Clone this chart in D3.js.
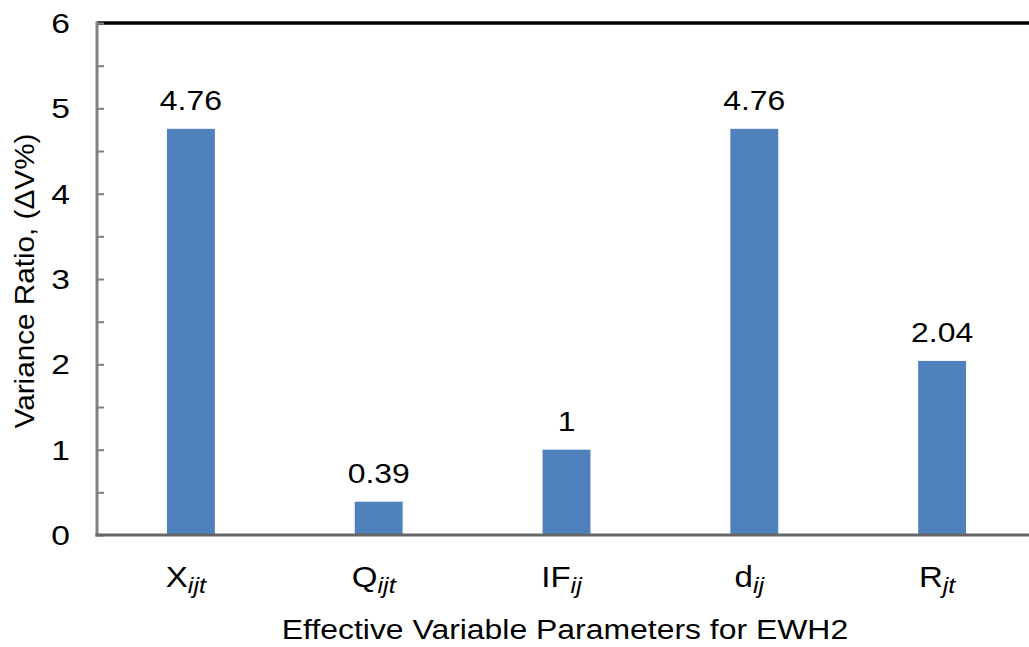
<!DOCTYPE html>
<html>
<head>
<meta charset="utf-8">
<script src="https://cdn.jsdelivr.net/npm/d3@7"></script>
<style>
  html, body { margin: 0; padding: 0; background: #fff; }
  svg { display: block; }
  text { font-family: "Liberation Sans", Arial, sans-serif; fill: #000; }
</style>
</head>
<body>
<svg id="chart" width="1029" height="647"></svg>
<script>
// Parameter names (main symbol + italic subscript) and their variance ratios
const categories = ["X", "Q", "IF", "d", "R"];
const subscripts = ["ijt", "ijt", "ij", "ij", "jt"];
const values = [4.76, 0.39, 1, 4.76, 2.04];
const valueLabels = ["4.76", "0.39", "1", "4.76", "2.04"];
const yTicks = [0, 1, 2, 3, 4, 5, 6];
const yMinorTicks = [0.5, 1.5, 2.5, 3.5, 4.5, 5.5];
const xTitle = "Effective Variable Parameters for EWH2";
const yTitle = "Variance Ratio, (\u0394V%)";

const svg = d3.select("#chart");
const plotLeft = 97, plotRight = 1036, plotTop = 23, plotBottom = 535;
const stretch = 1.14; // horizontal glyph widening used for all labels

const y = d3.scaleLinear().domain([0, 6]).range([plotBottom, plotTop]);
const x = d3.scaleBand().domain(categories.map((c, i) => i))
  .range([plotLeft, plotRight]).paddingInner(0.745).paddingOuter(0.3725);

// Plot-area top border
svg.append("line")
  .attr("x1", plotLeft).attr("x2", 1029).attr("y1", plotTop).attr("y2", plotTop)
  .attr("stroke", "#000").attr("stroke-width", 3.5);

// Bars
svg.append("g").selectAll("rect").data(values).join("rect")
  .attr("x", (d, i) => x(i))
  .attr("width", x.bandwidth())
  .attr("y", d => y(d))
  .attr("height", d => y(0) - y(d))
  .attr("fill", "#4F81BD");

// Value labels above bars
svg.append("g").selectAll("g").data(values).join("g")
  .attr("transform", (d, i) => `translate(${x(i) + x.bandwidth() / 2},${y(d) - 19}) scale(${stretch},1)`)
  .append("text")
  .attr("text-anchor", "middle")
  .style("font-size", "28px")
  .text((d, i) => valueLabels[i]);

// Y axis with inward ticks
const yAxis = d3.axisRight(y).tickValues(yTicks).tickSize(7).tickFormat("");
const yAxisMinor = d3.axisRight(y).tickValues(yMinorTicks).tickSize(7).tickFormat("");
[yAxis, yAxisMinor].forEach(ax => {
  const g = svg.append("g").attr("transform", `translate(${plotLeft},0)`).call(ax);
  g.select(".domain").remove();
  g.selectAll(".tick line").attr("stroke", "#808080").attr("stroke-width", 2);
});
svg.append("line")
  .attr("x1", plotLeft).attr("x2", plotLeft).attr("y1", plotTop - 1.5).attr("y2", plotBottom + 1.5)
  .attr("stroke", "#808080").attr("stroke-width", 3);

// Y tick labels
svg.append("g").selectAll("g").data(yTicks).join("g")
  .attr("transform", d => `translate(70,${y(d)}) scale(${stretch + 0.06},1)`)
  .append("text")
  .attr("dy", "0.36em")
  .attr("text-anchor", "end")
  .style("font-size", "28px")
  .text(d => d);

// X axis baseline
const xAxis = d3.axisBottom(x).tickSize(0).tickFormat("");
const gx = svg.append("g").attr("transform", `translate(0,${plotBottom})`).call(xAxis);
gx.select(".domain").remove();
svg.append("line")
  .attr("x1", plotLeft - 1.5).attr("x2", 1029).attr("y1", plotBottom).attr("y2", plotBottom)
  .attr("stroke", "#666").attr("stroke-width", 3);

// Category labels with italic subscripts
const catLabels = svg.append("g").selectAll("g").data(categories).join("g")
  .attr("transform", (d, i) => `translate(${x(i) + x.bandwidth() / 2 - 5},587) scale(${stretch},1)`)
  .append("text")
  .attr("text-anchor", "middle")
  .style("font-size", "29px");
catLabels.append("tspan").text(d => d);
catLabels.append("tspan")
  .attr("dy", 6)
  .style("font-size", "22px")
  .style("font-style", "italic")
  .text((d, i) => subscripts[i]);

// Axis titles
svg.append("g")
  .attr("transform", `translate(565,639) scale(${stretch},1)`)
  .append("text")
  .attr("text-anchor", "middle")
  .style("font-size", "28px")
  .text(xTitle);

svg.append("g")
  .attr("transform", "translate(34,281) rotate(-90) scale(1.1,1)")
  .append("text")
  .attr("text-anchor", "middle")
  .style("font-size", "27px")
  .text(yTitle);
</script>
</body>
</html>
